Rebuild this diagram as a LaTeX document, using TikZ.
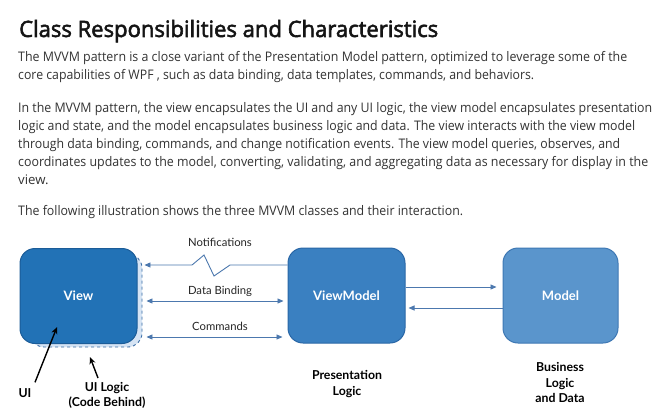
\documentclass[tikz,border=0pt]{standalone}
\usepackage{fontspec}
\usepackage{graphicx}
\setmainfont{Open Sans}
\newfontfamily\titlefont[FakeBold=2.5]{Open Sans}
\newfontfamily\diafont{Lato}
\usetikzlibrary{arrows.meta}
\definecolor{viewc}{HTML}{2272B6}
\definecolor{viewb}{HTML}{1B5C98}
\definecolor{vmc}{HTML}{3A80C1}
\definecolor{vmb}{HTML}{2A67A6}
\definecolor{modc}{HTML}{5A95CC}
\definecolor{modb}{HTML}{3E78B4}
\definecolor{lightc}{HTML}{D6E4F4}
\definecolor{dashc}{HTML}{3A6DA6}
\definecolor{arrc}{HTML}{4C78AE}
\definecolor{bodyc}{HTML}{333333}
\newcommand{\fitline}[2]{\resizebox{#1}{\height}{#2}}
\begin{document}
\begin{tikzpicture}[x=1pt,y=-1pt,
  body/.style={anchor=base west, inner sep=0pt, text=bodyc, font=\fontsize{13.2}{18}\selectfont},
  titlestyle/.style={anchor=base west, inner sep=0pt, text=black!92, font=\titlefont\fontsize{22.5}{26}\selectfont},
  box/.style={draw, line width=1pt, rounded corners=15pt, minimum width=117pt, minimum height=95pt, inner sep=0pt, text=white, font=\diafont\bfseries\fontsize{13}{15}\selectfont},
  lbl/.style={inner sep=0pt, text=black!85, font=\diafont\fontsize{11.3}{12}\selectfont},
  capstyle/.style={inner sep=0pt, align=center, text=black, font=\diafont\bfseries\fontsize{12.3}{15.5}\selectfont},
  arr/.style={draw=arrc, line width=0.9pt, -{Triangle[length=6pt,width=5pt]}},
  dbl/.style={draw=arrc, line width=0.9pt, {Triangle[length=6pt,width=5pt]}-{Triangle[length=6pt,width=5pt]}},
  ptr/.style={draw=black, line width=1.4pt, -{Stealth[length=7pt,width=6pt]}}
]
\useasboundingbox (0,0) rectangle (669,420);
\fill[white] (0,0) rectangle (669,420);

% text
\node[titlestyle] (title) at (19,37) {\fitline{419pt}{Class Responsibilities and Characteristics}};
\node[body] (p1a) at (18,62) {\fitline{609pt}{The MVVM pattern is a close variant of the Presentation Model pattern, optimized to leverage some of the}};
\node[body] (p1b) at (18,80) {\fitline{516pt}{core capabilities of WPF , such as data binding, data templates, commands, and behaviors.}};
\node[body] (p2a) at (18,112) {\fitline{634pt}{In the MVVM pattern, the view encapsulates the UI and any UI logic, the view model encapsulates presentation}};
\node[body] (p2b) at (18,130) {\fitline{617pt}{logic and state, and the model encapsulates business logic and data. The view interacts with the view model}};
\node[body] (p2c) at (18,148) {\fitline{602pt}{through data binding, commands, and change notification events. The view model queries, observes, and}};
\node[body] (p2d) at (18,166) {\fitline{630pt}{coordinates updates to the model, converting, validating, and aggregating data as necessary for display in the}};
\node[body] (p2e) at (18,184) {view.};
\node[body] (p3) at (18,215) {\fitline{445pt}{The following illustration shows the three MVVM classes and their interaction.}};

% diagram
\node[draw=dashc, dashed, line width=0.9pt, fill=lightc, rounded corners=14pt, minimum width=112pt, minimum height=93pt, inner sep=0pt] (uilogic) at (86,300.5) {};
\node[box, draw=viewb, fill=viewc] (view) at (78.5,296) {View};
\node[box, draw=vmb, fill=vmc] (vm) at (346.5,295.5) {ViewModel};
\node[box, draw=modb, fill=modc, minimum width=115pt] (model) at (560.5,295.5) {Model};

\coordinate (nt) at (0,265);
\coordinate (db) at (0,301);
\coordinate (cm) at (0,337);
\coordinate (up) at (0,287);
\coordinate (dn) at (0,308);

\draw[arr, line join=miter] (vm.west|-nt) -- (230,265) -- (214,276) -- (204,255) -- (192,265) -- ([xshift=2pt]uilogic.east|-nt);
\draw[dbl, shorten <=4pt, shorten >=4pt] (uilogic.east|-db) -- (vm.west|-db);
\draw[dbl, shorten <=4pt, shorten >=5pt] (uilogic.east|-cm) -- (vm.west|-cm);
\draw[arr, shorten >=6pt] (vm.east|-up) -- (model.west|-up);
\draw[arr, shorten >=3pt] (model.west|-dn) -- (vm.east|-dn);

\node[lbl] (lnt) at (220,242.5) {Notifications};
\node[lbl] (ldb) at (220,291.5) {Data Binding};
\node[lbl] (lcm) at (220,326) {Commands};

\node[capstyle] (pres) at (347,384) {Presentation\\Logic};
\node[capstyle] (bus) at (560,382.5) {Business\\Logic\\and Data};
\node[capstyle] (ui) at (25,393) {UI};
\node[capstyle] (uil) at (107,395.5) {UI Logic\\(Code Behind)};

\coordinate (uitip) at (57,327);
\coordinate (ultip) at (90,357);
\draw[ptr] ([xshift=10pt,yshift=6pt]ui.north) -- (uitip);
\draw[ptr] ([xshift=-9pt,yshift=4pt]uil.north) -- (ultip);
\end{tikzpicture}
\end{document}
